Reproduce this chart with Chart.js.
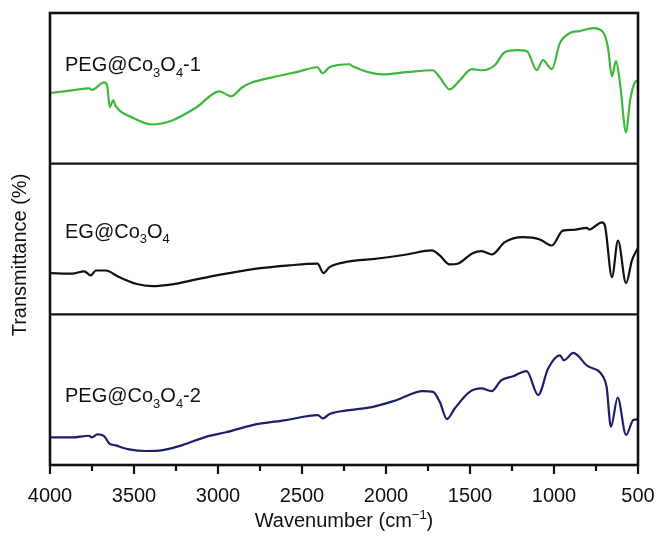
<!DOCTYPE html>
<html>
<head>
<meta charset="utf-8">
<script src="https://cdn.jsdelivr.net/npm/chart.js@4/dist/chart.umd.min.js"></script>
<style>
html,body{margin:0;padding:0;background:#fff;}
#wrap{position:relative;width:658px;height:538px;}
</style>
</head>
<body>
<div id="wrap"><canvas id="c" width="658" height="538"></canvas></div>
<script>
// ---- data (wavenumber in cm^-1, transmittance in % of each panel) ----
const seriesNames = ["PEG@Co3O4-1", "EG@Co3O4", "PEG@Co3O4-2"];
const seriesColors = ["#3cb83c", "#111111", "#1e1e6a"];

const peg1Wavenumber = [4000,3869,3767,3750,3678,3660,3644,3624,3608,3511,3392,3273,3129,2992,2921,2855,2795,2676,2515,2408,2378,2336,2217,2199,2020,1877,1722,1680,1621,1561,1490,1424,1353,1293,1221,1162,1102,1066,1013,965,905,846,768,708,679,655,631,607,571,547,518,500];
const peg1Trans      = [46.9,48.7,50,49,54,52,37.5,42,38,30.7,26,28.7,37.3,48,44.7,50.7,54,57.3,61.3,64,60,64,66,64.7,59.3,60.7,62,57.3,49.3,55.3,62.7,62,65.3,74,75.3,74.7,62,68.7,62.7,80,86.7,88,90,87.3,77.3,58,68,53.3,20.7,42,54,55.3];

const egWavenumber = [4000,3869,3797,3757,3727,3668,3589,3489,3392,3273,3129,2951,2772,2575,2408,2372,2336,2217,2080,1877,1728,1680,1621,1573,1484,1430,1370,1293,1186,1084,1013,947,887,804,792,714,697,655,619,571,536,500];
const egTrans      = [27.4,27,28.5,25.8,29.1,29.1,24.7,20.3,18.7,19.9,23.2,27,30.3,32.5,33.6,27.4,31.3,35.1,36.6,39.7,42.4,39.1,33.1,33.6,40.6,41.9,39.7,47.9,51.2,49.7,45.7,55.6,56.1,57.4,56.3,61.1,58.9,24.7,49,20.7,35.8,44.2];

const peg2Wavenumber = [4000,3869,3767,3751,3718,3678,3648,3608,3529,3429,3330,3211,3072,2952,2794,2595,2406,2376,2336,2217,2078,1939,1780,1720,1680,1637,1591,1502,1432,1372,1313,1243,1163,1094,1035,965,941,885,806,707,687,661,621,571,528,500];
const peg2Trans      = [18.3,18.3,19.4,18.3,20.3,19.2,14.4,13,10.4,9.3,9.9,13.2,18.7,21.7,26.5,29.8,33.1,30.9,33.8,36.4,38.6,43,49,48.5,41.9,30.5,37.5,48.5,50.8,49,56.3,58.9,62.3,46.4,64,72.8,69.5,74.4,66.2,58.5,51.9,25.4,44.8,19.9,29.8,30.3];

const xTickValues = [4000,3500,3000,2500,2000,1500,1000,500];
const xTitle = "Wavenumber (cm";
const yTitle = "Transmittance (%)";

// ---- build ----
const FONT = "'Liberation Sans', Arial, Helvetica, sans-serif";
const panels = [
  {w: peg1Wavenumber, t: peg1Trans, offset: 200},
  {w: egWavenumber, t: egTrans, offset: 100},
  {w: peg2Wavenumber, t: peg2Trans, offset: 0}
];
const datasets = panels.map((p, i) => ({
  label: seriesNames[i],
  data: p.w.map((w, k) => ({x: w, y: p.t[k] + p.offset})),
  borderColor: seriesColors[i],
  borderWidth: 2.2,
  pointRadius: 0,
  cubicInterpolationMode: 'monotone',
  fill: false
}));

function drawRich(ctx, parts, x, y, size) {
  let cx = x;
  for (const [txt, kind] of parts) {
    const s = kind ? Math.round(size * 0.65) : size;
    ctx.font = s + "px " + FONT;
    const dy = kind === 'sub' ? size * 0.28 : (kind === 'sup' ? -size * 0.42 : 0);
    ctx.fillText(txt, cx, y + dy);
    cx += ctx.measureText(txt).width;
  }
  return cx - x;
}
function measureRich(ctx, parts, size) {
  let w = 0;
  for (const [txt, kind] of parts) {
    const s = kind ? Math.round(size * 0.65) : size;
    ctx.font = s + "px " + FONT;
    w += ctx.measureText(txt).width;
  }
  return w;
}
function labelParts(name) {
  const parts = [];
  const re = /(Co)(\d)(O)(\d)/;
  const m = name.match(re);
  if (!m) return [[name, null]];
  const pre = name.slice(0, m.index);
  const post = name.slice(m.index + m[0].length);
  parts.push([pre + m[1], null], [m[2], 'sub'], [m[3], null], [m[4], 'sub']);
  if (post) parts.push([post, null]);
  return parts;
}

const framePlugin = {
  id: 'frame',
  afterDraw(chart) {
    const {ctx, chartArea: a, scales} = chart;
    const x = scales.x, y = scales.y;
    ctx.save();
    ctx.strokeStyle = '#111';
    ctx.lineWidth = 2.6;
    ctx.strokeRect(a.left, a.top, a.right - a.left, a.bottom - a.top);
    ctx.lineWidth = 2.4;
    [100, 200].forEach(v => {
      const py = y.getPixelForValue(v);
      ctx.beginPath(); ctx.moveTo(a.left, py); ctx.lineTo(a.right, py); ctx.stroke();
    });
    ctx.lineWidth = 2.2;
    for (let w = 500; w <= 4000; w += 250) {
      const px = x.getPixelForValue(w);
      const len = (w % 500 === 0) ? 9 : 6;
      ctx.beginPath(); ctx.moveTo(px, a.bottom); ctx.lineTo(px, a.bottom + len); ctx.stroke();
    }
    ctx.fillStyle = '#111';
    ctx.textBaseline = 'alphabetic';
    ctx.textAlign = 'left';
    const baseOffsets = [58, 74, 88];
    const panelTops = [300, 200, 100].map(v => y.getPixelForValue(v));
    seriesNames.forEach((n, i) => {
      drawRich(ctx, labelParts(n), a.left + 15, panelTops[i] + baseOffsets[i], 20);
    });
    const xParts = [[xTitle, null], ["\u22121", 'sup'], [")", null]];
    const tw = measureRich(ctx, xParts, 20);
    drawRich(ctx, xParts, (a.left + a.right) / 2 - tw / 2, 527, 20);
    ctx.translate(26, (a.top + a.bottom) / 2 + 16);
    ctx.rotate(-Math.PI / 2);
    ctx.font = "20px " + FONT;
    ctx.textAlign = 'center';
    ctx.fillText(yTitle, 0, 0);
    ctx.restore();
  }
};

new Chart(document.getElementById('c'), {
  type: 'line',
  data: {datasets},
  options: {
    responsive: false,
    animation: false,
    events: [],
    layout: {padding: {left: 50, right: 20, top: 13, bottom: 0}},
    plugins: {legend: {display: false}, tooltip: {enabled: false}, title: {display: false}},
    scales: {
      x: {
        type: 'linear', reverse: true, min: 500, max: 4000,
        afterBuildTicks(scale) { scale.ticks = xTickValues.map(v => ({value: v})); },
        ticks: {color: '#111', font: {family: FONT, size: 20}, padding: 19, maxRotation: 0, autoSkip: false,
                callback: v => String(v)},
        grid: {display: false, drawTicks: false},
        border: {display: false},
        afterFit(scale) { scale.height = 73; scale.paddingLeft = 0; scale.paddingRight = 0; }
      },
      y: {
        display: false, min: 0, max: 300
      }
    }
  },
  plugins: [framePlugin]
});
</script>
</body>
</html>
